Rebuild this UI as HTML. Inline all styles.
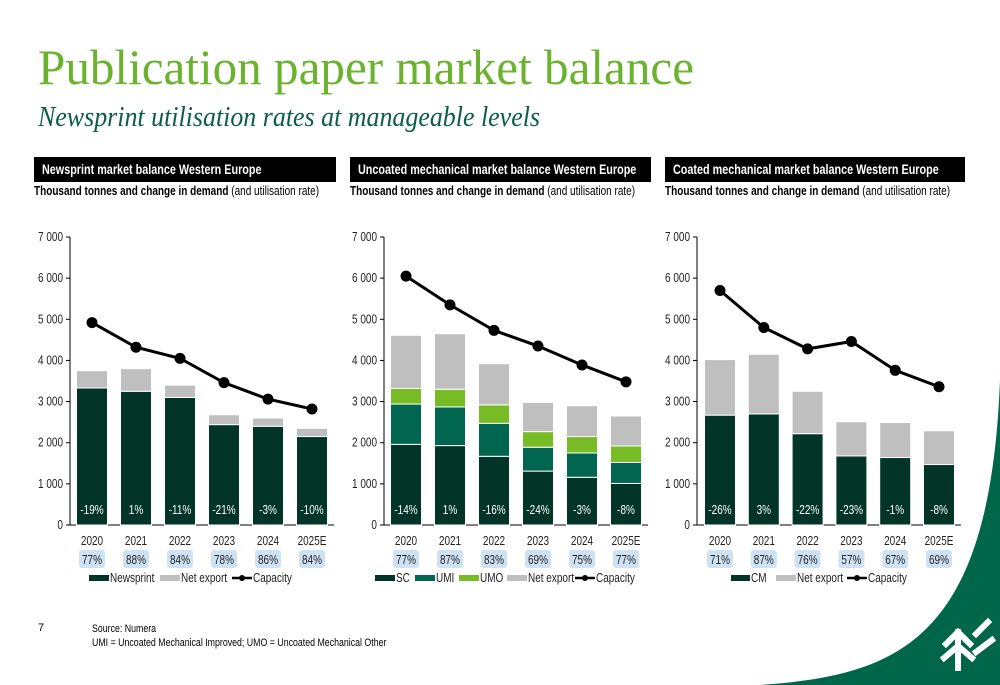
<!DOCTYPE html>
<html><head><meta charset="utf-8">
<style>
body{margin:0;width:1000px;height:685px;position:relative;overflow:hidden;background:#fff;font-family:"Liberation Sans",sans-serif;}
.abs{position:absolute;}
.n{display:inline-block;transform:scaleX(.8);transform-origin:left top;white-space:nowrap;}
.hdr{position:absolute;top:157px;height:25px;background:#000;color:#fff;font-weight:bold;font-size:13.5px;line-height:25px;padding-left:8px;box-sizing:border-box;overflow:hidden;}
.sub{position:absolute;top:184px;font-size:12.5px;color:#000;}
</style></head><body>
<svg class="abs" style="left:0;top:0" width="1000" height="685">
<path d="M760,685 C900,675 990,640 1000,380 L1000,685 Z" fill="#00664a"/>
<g fill="none" stroke="#fff" stroke-width="6" stroke-linecap="square">
<path d="M958,668 L958,632 M946,644 L958,632 L970,644 M944,658 L958,646 L972,658 M976,634 L988,622 M976,652 L992,640"/>
</g>
<text x="38" y="84" font-family="Liberation Serif, serif" font-size="50" fill="#6bb32e" textLength="656" lengthAdjust="spacingAndGlyphs">Publication paper market balance</text>
<text x="38" y="126" font-family="Liberation Serif, serif" font-style="italic" font-size="28" fill="#0b5e45" textLength="502" lengthAdjust="spacingAndGlyphs">Newsprint utilisation rates at manageable levels</text>
</svg>
<div class="hdr" style="left:34px;width:302px"><span class="n">Newsprint market balance Western Europe</span></div>
<div class="hdr" style="left:350px;width:301px"><span class="n">Uncoated mechanical market balance Western Europe</span></div>
<div class="hdr" style="left:665px;width:300px"><span class="n">Coated mechanical market balance Western Europe</span></div>
<div class="sub" style="left:34px"><span class="n"><b>Thousand tonnes and change in demand</b> (and utilisation rate)</span></div>
<div class="sub" style="left:350px"><span class="n"><b>Thousand tonnes and change in demand</b> (and utilisation rate)</span></div>
<div class="sub" style="left:665px"><span class="n"><b>Thousand tonnes and change in demand</b> (and utilisation rate)</span></div>
<div class="abs" style="left:38px;top:622px;font-size:11px">7</div>
<div class="abs" style="left:92px;top:622px;font-size:11px;line-height:14px"><span class="n">Source: Numera<br>UMI = Uncoated Mechanical Improved; UMO = Uncoated Mechanical Other</span></div>
<svg id="charts" class="abs" style="left:0;top:0" width="1000" height="685"></svg>
<script>
const years=["2020","2021","2022","2023","2024","2025E"];
const yTicks=[0,1000,2000,3000,4000,5000,6000,7000];
const yTickLabels=["0","1 000","2 000","3 000","4 000","5 000","6 000","7 000"];
// Newsprint
const nsNewsprint=[3330,3250,3100,2440,2400,2150];
const nsNetExport=[420,550,300,240,200,200];
const nsCapacity=[4920,4320,4050,3460,3060,2820];
const nsChange=["-19%","1%","-11%","-21%","-3%","-10%"];
const nsUtil=["77%","88%","84%","78%","86%","84%"];
// Uncoated mechanical
const ucSC=[1960,1930,1670,1310,1160,1010];
const ucUMI=[980,940,800,580,590,510];
const ucUMO=[380,430,450,380,400,400];
const ucNetExport=[1290,1350,1000,710,750,730];
const ucCapacity=[6050,5350,4730,4350,3890,3480];
const ucChange=["-14%","1%","-16%","-24%","-3%","-8%"];
const ucUtil=["77%","87%","83%","69%","75%","77%"];
// Coated mechanical
const cmCM=[2670,2700,2220,1680,1640,1470];
const cmNetExport=[1350,1450,1030,830,850,820];
const cmCapacity=[5700,4800,4280,4460,3760,3360];
const cmChange=["-26%","3%","-22%","-23%","-1%","-8%"];
const cmUtil=["71%","87%","76%","57%","67%","69%"];

const NS="http://www.w3.org/2000/svg";
const root=document.getElementById('charts');
function mk(tag,attrs,parent){const e=document.createElementNS(NS,tag);for(const k in attrs)e.setAttribute(k,attrs[k]);(parent||root).appendChild(e);return e;}
function txt(x,y,s,attrs,parent){const t=mk('text',Object.assign({x:0,y:0,transform:'translate('+x+','+y+') scale(0.8,1)','font-size':12.5,'font-family':'Liberation Sans, sans-serif'},attrs),parent);t.textContent=s;return t;}

function drawChart(prefix,axisX,firstCenter,step,series,colors,names,capacity,change,util,legend){
  const y0=525,pxPer=288/7000;
  const Y=v=>y0-v*pxPer;
  const X=i=>firstCenter+i*step;
  const g=mk('g',{});
  
  
  const endX=X(years.length-1)+step/2;
  const ax=mk('line',{x1:axisX,y1:Y(7000),x2:axisX,y2:y0,stroke:'#000','stroke-width':1},g);
  
  
  const bx=mk('line',{x1:axisX,y1:y0,x2:endX,y2:y0,stroke:'#000','stroke-width':1},g);
  
  
  yTicks.forEach((v,i)=>{
    mk('line',{x1:axisX-4,y1:Y(v),x2:axisX,y2:Y(v),stroke:'#000'},g);
    const t=txt(axisX-7,Y(v)+4,yTickLabels[i],{'text-anchor':'end',fill:'#222'},g);
    
    
  });
  const bw=31;
  years.forEach((yr,i)=>{
    let cum=0;
    series.forEach((arr,s)=>{
      const v=arr[i];
      const r=mk('rect',{x:X(i)-bw/2,y:Y(cum+v),width:bw,height:v*pxPer,fill:colors[s],stroke:'#fff','stroke-width':1},g);
      
      
      cum+=v;
    });
    const c=txt(X(i),514,change[i],{'text-anchor':'middle',fill:'#fff'},g);
    
    
    const yl=txt(X(i),545,yr,{'text-anchor':'middle',fill:'#222'},g);
    
    
    const ub=mk('rect',{x:X(i)-13,y:550,width:26,height:18,rx:3,fill:'#cfe2f3'},g);
    
    
    const ut=txt(X(i),564,util[i],{'text-anchor':'middle',fill:'#222'},g);
    
    
  });
  const pts=capacity.map((v,i)=>X(i)+','+Y(v)).join(' ');
  const pl=mk('polyline',{points:pts,fill:'none',stroke:'#000','stroke-width':3},g);
  
  
  capacity.forEach((v,i)=>{
    const c=mk('circle',{cx:X(i),cy:Y(v),r:5.5,fill:'#000'},g);
    
    
  });
  let lx=legend.x;
  legend.items.forEach(it=>{
    const lg=mk('g',{},g);
    
    
    if(it.color){mk('rect',{x:lx,y:575,width:it.sw,height:6,fill:it.color},lg);}
    else{mk('line',{x1:lx,y1:578,x2:lx+20,y2:578,stroke:'#000','stroke-width':2.5},lg);mk('circle',{cx:lx+10,cy:578,r:3,fill:'#000'},lg);}
    const w=it.color?it.sw:20;
    txt(lx+w+1,582,it.label,{fill:'#222'},lg);
    lx+=it.adv;
  });
}
drawChart('newsprint',70,92,44,[nsNewsprint,nsNetExport],['#023527','#bfbfbf'],['newsprint','net-export'],nsCapacity,nsChange,nsUtil,
 {x:89,items:[{color:'#023527',sw:20,label:'Newsprint',adv:71},{color:'#bfbfbf',sw:20,label:'Net export',adv:72},{label:'Capacity',adv:60}]});
drawChart('uncoated',384,406,44,[ucSC,ucUMI,ucUMO,ucNetExport],['#023527','#006650','#77bc25','#bfbfbf'],['sc','umi','umo','net-export'],ucCapacity,ucChange,ucUtil,
 {x:375,items:[{color:'#023527',sw:20,label:'SC',adv:40},{color:'#006650',sw:20,label:'UMI',adv:44},{color:'#77bc25',sw:20,label:'UMO',adv:48},{color:'#bfbfbf',sw:20,label:'Net export',adv:68},{label:'Capacity',adv:60}]});
drawChart('coated',697,720,43.8,[cmCM,cmNetExport],['#023527','#bfbfbf'],['cm','net-export'],cmCapacity,cmChange,cmUtil,
 {x:731,items:[{color:'#023527',sw:19,label:'CM',adv:45},{color:'#bfbfbf',sw:20,label:'Net export',adv:71},{label:'Capacity',adv:60}]});
</script>
</body></html>
